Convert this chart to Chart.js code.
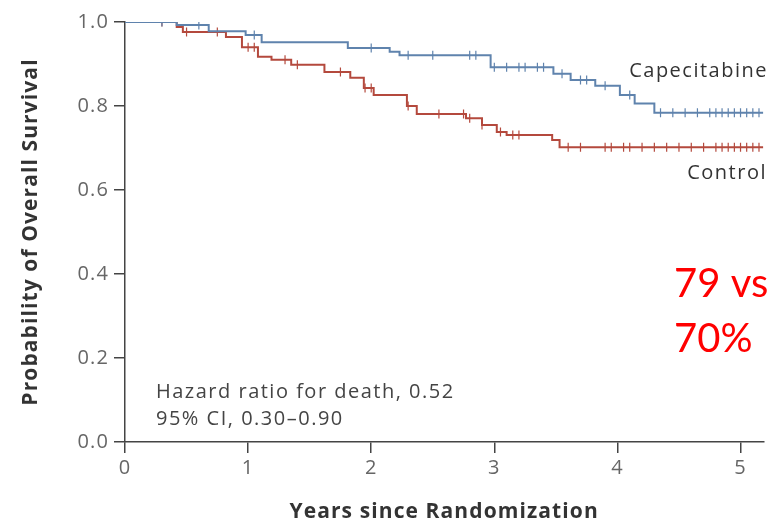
<!DOCTYPE html>
<html>
<head>
<meta charset="utf-8">
<script src="https://cdn.jsdelivr.net/npm/chart.js@4/dist/chart.umd.min.js"></script>
<style>
  html, body { margin: 0; padding: 0; background: #fff; }
  #wrap { width: 769px; height: 528px; }
</style>
</head>
<body>
<div id="wrap"><canvas id="kmChart" width="769" height="528"></canvas></div>
<script>
// Kaplan-Meier steps (years, survival)
const capeTimes = [0, 0.42, 0.68, 0.98, 1.11, 1.81, 2.15, 2.23, 2.97, 3.48, 3.62, 3.82, 4.02, 4.14, 4.30, 5.185];
const capeSurv  = [1, 0.993, 0.978, 0.969, 0.952, 0.938, 0.929, 0.921, 0.892, 0.877, 0.862, 0.848, 0.826, 0.806, 0.784, 0.784];

const controlTimes = [0, 0.42, 0.47, 0.82, 0.95, 1.08, 1.19, 1.35, 1.62, 1.83, 1.94, 2.02, 2.29, 2.37, 2.77, 2.90, 3.02, 3.10, 3.47, 3.53, 5.185];
const controlSurv  = [1, 0.988, 0.976, 0.964, 0.940, 0.917, 0.910, 0.898, 0.881, 0.867, 0.843, 0.826, 0.800, 0.781, 0.771, 0.755, 0.738, 0.731, 0.719, 0.702, 0.702];

// censoring marks (years)
const capeCensor = [0.3, 0.6, 1.05, 2.0, 2.3, 2.5, 2.8, 2.85, 3.0, 3.1, 3.2, 3.25, 3.35, 3.4, 3.55, 3.7, 3.75, 3.9, 4.1, 4.35, 4.45, 4.55, 4.65, 4.75, 4.8, 4.85, 4.9, 4.95, 5.0, 5.05, 5.1, 5.15];
const controlCensor = [0.3, 0.5, 0.75, 1.0, 1.05, 1.3, 1.4, 1.75, 1.95, 2.0, 2.3, 2.55, 2.75, 2.8, 2.9, 3.05, 3.15, 3.2, 3.6, 3.7, 3.9, 3.95, 4.05, 4.1, 4.2, 4.3, 4.4, 4.5, 4.6, 4.7, 4.8, 4.85, 4.9, 4.95, 5.0, 5.05, 5.1, 5.15];

const yTicks = [0, 0.2, 0.4, 0.6, 0.8, 1.0];
const xTicks = [0, 1, 2, 3, 4, 5];

const blue = '#5f83ad';
const red = '#b4493d';

function steps(times, surv) {
  return times.map((t, i) => ({ x: t, y: surv[i] }));
}
function survAt(times, surv, t) {
  let v = surv[0];
  for (let i = 0; i < times.length; i++) {
    if (times[i] <= t) v = surv[i];
  }
  return v;
}
function censorPoints(list, times, surv) {
  return list.map(t => ({ x: t, y: survAt(times, surv, t) }));
}

// the original type is set wide, so loosen the canvas text a little
const spacing = {
  id: 'spacing',
  beforeDraw(chart) {
    chart.ctx.letterSpacing = '1.1px';
  }
};

const notes = {
  id: 'notes',
  afterDraw(chart) {
    const ctx = chart.ctx;
    ctx.save();
    ctx.letterSpacing = '1.5px';
    ctx.textAlign = 'left';
    ctx.textBaseline = 'alphabetic';
    ctx.fillStyle = '#444';
    ctx.font = '20px "Open Sans"';
    ctx.fillText('Hazard ratio for death, 0.52', 156, 398);
    ctx.fillText('95% CI, 0.30\u20130.90', 156, 425);

    ctx.textAlign = 'right';
    ctx.fillStyle = '#333';
    ctx.font = '20px "Open Sans"';
    ctx.fillText('Capecitabine', 768, 77);
    ctx.fillText('Control', 767, 179);

    ctx.letterSpacing = '0px';
    ctx.textAlign = 'left';
    ctx.fillStyle = '#ff0000';
    ctx.font = '40px Lato';
    ctx.fillText('79 vs', 674, 297);
    ctx.fillText('70%', 674, 352);
    ctx.restore();
  }
};

const axisColor = '#444';
const tickFont = { family: 'Open Sans', size: 20 };

new Chart(document.getElementById('kmChart'), {
  type: 'line',
  data: {
    datasets: [
      {
        label: 'Capecitabine',
        data: steps(capeTimes, capeSurv),
        stepped: true,
        borderColor: blue,
        borderWidth: 2,
        pointRadius: 0,
        fill: false
      },
      {
        label: 'Control',
        data: steps(controlTimes, controlSurv),
        stepped: true,
        borderColor: red,
        borderWidth: 2,
        pointRadius: 0,
        fill: false
      },
      {
        label: 'Capecitabine censored',
        data: censorPoints(capeCensor, capeTimes, capeSurv),
        showLine: false,
        pointStyle: 'line',
        rotation: 90,
        pointRadius: 4.5,
        borderColor: blue,
        borderWidth: 1.2
      },
      {
        label: 'Control censored',
        data: censorPoints(controlCensor, controlTimes, controlSurv),
        showLine: false,
        pointStyle: 'line',
        rotation: 90,
        pointRadius: 4.5,
        borderColor: red,
        borderWidth: 1.2
      }
    ]
  },
  options: {
    responsive: false,
    animation: false,
    layout: { padding: { top: 22, right: 0, bottom: 0, left: 0 } },
    plugins: {
      legend: { display: false },
      tooltip: { enabled: false }
    },
    scales: {
      x: {
        type: 'linear',
        min: 0,
        max: 5.185,
        afterBuildTicks: s => { s.ticks = xTicks.map(v => ({ value: v })); },
        afterFit: s => { s.height = 86; },
        grid: { drawOnChartArea: false, tickLength: 11, color: axisColor, lineWidth: 1.5 },
        border: { color: axisColor, width: 1.5 },
        ticks: { color: '#666', font: tickFont, padding: 3, maxRotation: 0 },
        title: {
          display: true,
          text: 'Years since Randomization',
          color: '#333',
          font: { family: 'Open Sans', size: 21, weight: 'bold' },
          padding: { top: 0, bottom: 3 }
        }
      },
      y: {
        min: 0,
        max: 1,
        afterBuildTicks: s => { s.ticks = yTicks.map(v => ({ value: v })); },
        afterFit: s => { s.width = 125; },
        grid: { drawOnChartArea: false, tickLength: 11, color: axisColor, lineWidth: 1.5 },
        border: { color: axisColor, width: 1.5 },
        ticks: { color: '#666', font: tickFont, padding: 5, callback: v => v.toFixed(1) },
        title: {
          display: true,
          text: 'Probability of Overall Survival',
          color: '#333',
          font: { family: 'Open Sans', size: 21, weight: 'bold' },
          padding: { top: 18, bottom: 0 }
        }
      }
    }
  },
  plugins: [spacing, notes]
});
</script>
</body>
</html>
